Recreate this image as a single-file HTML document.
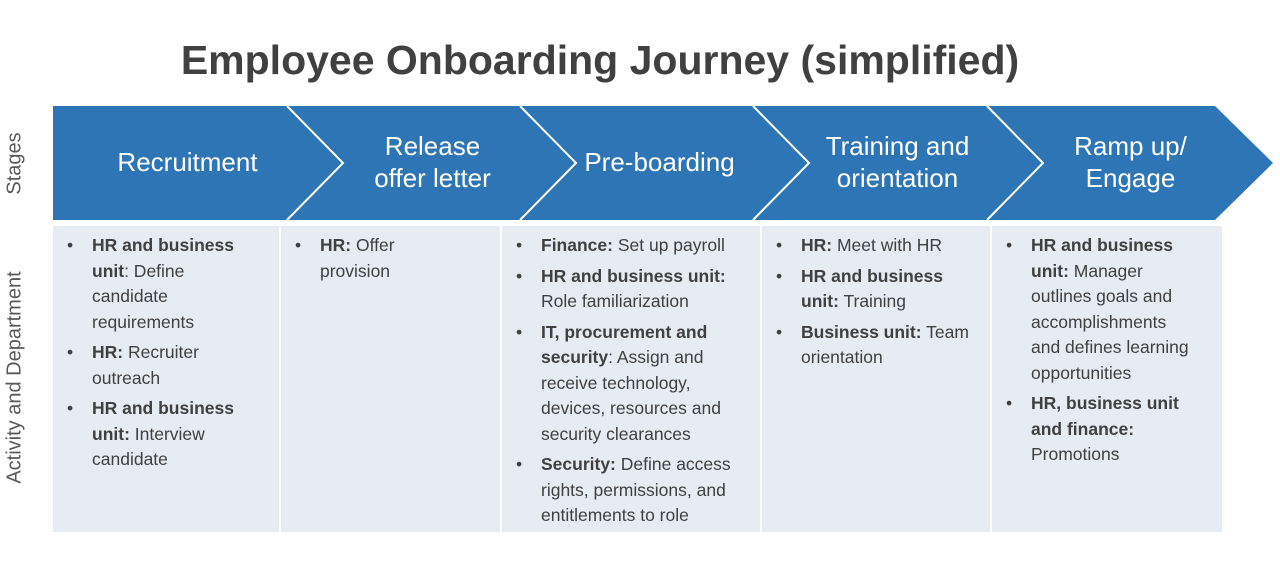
<!DOCTYPE html>
<html><head><style>
body{margin:0;width:1280px;height:581px;background:#fff;position:relative;overflow:hidden;font-family:"Liberation Sans",sans-serif}
.t{position:absolute;left:0;width:1200px;top:37px;text-align:center;font-size:41px;font-weight:bold;color:#404040}
.side{position:absolute;color:#595959;font-size:20px;transform:rotate(-90deg);transform-origin:center;white-space:nowrap;text-align:center}
.col{position:absolute;top:226px;height:306px;background:#e7ecf3;box-sizing:border-box;padding:7px 4px 0 14px;font-size:17.5px;line-height:25.5px;color:#404040;white-space:nowrap}
.col ul{margin:0;padding:0;list-style:none}
.col li{position:relative;padding-left:25px;margin-bottom:5px}
.col li:before{content:"•";position:absolute;left:0}
.st{position:absolute;color:#fff;font-size:26px;line-height:32px;text-align:center}
</style></head><body>
<div class="t">Employee Onboarding Journey (simplified)</div>
<svg style="position:absolute;left:0;top:0" width="1280" height="581">
<polygon points="53,106 1215,106 1273,163 1215,220 53,220" fill="#2e75b6"/>
<g stroke="#fff" stroke-width="2" fill="none">
<polyline points="287,106 343,163 287,220"/>
<polyline points="520,106 576,163 520,220"/>
<polyline points="753,106 809,163 753,220"/>
<polyline points="987,106 1043,163 987,220"/>
</g>
</svg>
<div class="side" style="left:-25px;top:152px;width:80px">Stages</div>
<div class="side" style="left:-100px;top:366px;width:230px">Activity and Department</div>
<div class="st" style="left:90px;width:195px;top:146px">Recruitment</div>
<div class="st" style="left:335px;width:195px;top:130px">Release<br>offer letter</div>
<div class="st" style="left:562px;width:195px;top:146px">Pre-boarding</div>
<div class="st" style="left:800px;width:195px;top:130px">Training and<br>orientation</div>
<div class="st" style="left:1033px;width:195px;top:130px">Ramp up/<br>Engage</div>
<div class="col" style="left:53px;width:226px"><ul>
<li><b>HR and business<br>unit</b>: Define<br>candidate<br>requirements</li>
<li><b>HR:</b> Recruiter<br>outreach</li>
<li><b>HR and business<br>unit:</b> Interview<br>candidate</li></ul></div>
<div class="col" style="left:281px;width:219px"><ul>
<li><b>HR:</b> Offer<br>provision</li></ul></div>
<div class="col" style="left:502px;width:258px"><ul>
<li><b>Finance:</b> Set up payroll</li>
<li><b>HR and business unit:</b><br>Role familiarization</li>
<li><b>IT, procurement and<br>security</b>: Assign and<br>receive technology,<br>devices, resources and<br>security clearances</li>
<li><b>Security:</b> Define access<br>rights, permissions, and<br>entitlements to role</li></ul></div>
<div class="col" style="left:762px;width:228px"><ul>
<li><b>HR:</b> Meet with HR</li>
<li><b>HR and business<br>unit:</b> Training</li>
<li><b>Business unit:</b> Team<br>orientation</li></ul></div>
<div class="col" style="left:992px;width:230px"><ul>
<li><b>HR and business<br>unit:</b> Manager<br>outlines goals and<br>accomplishments<br>and defines learning<br>opportunities</li>
<li><b>HR, business unit<br>and finance:</b><br>Promotions</li></ul></div>
</body></html>
